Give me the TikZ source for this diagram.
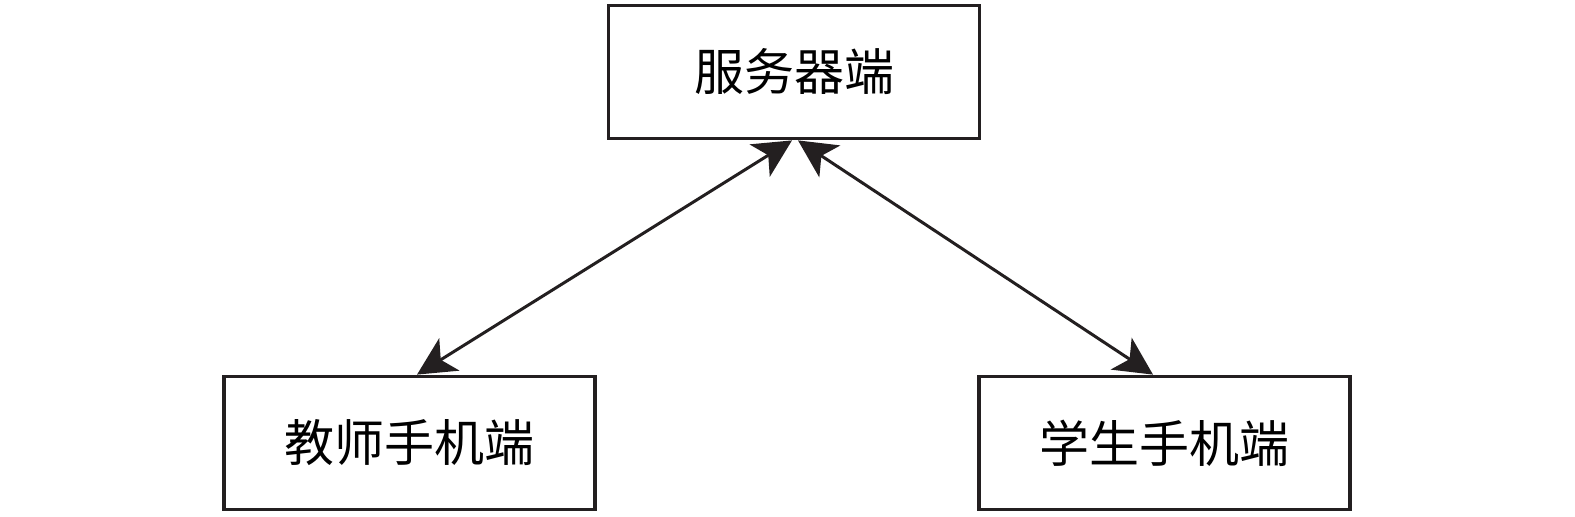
\documentclass[tikz,border=0pt]{standalone}
\usepackage{fontspec}
\newfontfamily\cjk{Noto Sans CJK SC}
\usetikzlibrary{arrows.meta}
\begin{document}
\begin{tikzpicture}[x=0.5pt,y=-0.5pt,
  boxnode/.style={draw={rgb,255:red,35;green,31;blue,32},line width=1.9pt,minimum width=185.5pt,minimum height=66.5pt,inner sep=0pt,font=\cjk\fontsize{25}{30}\selectfont},
  link/.style={line width=1.5pt,draw={rgb,255:red,35;green,31;blue,32},{Stealth[length=19pt,width=19pt,inset=5pt]}-{Stealth[length=19pt,width=19pt,inset=5pt]}}]
\useasboundingbox (0,0) rectangle (1575,516);
\node[boxnode] (srv) at (794,72) {服务器端};
\node[boxnode] (tea) at (409.5,443) {教师手机端};
\node[boxnode] (stu) at (1164.5,443) {学生手机端};
\coordinate (sl) at (srv.south -| 792,0);
\coordinate (sr) at (srv.south -| 798,0);
\coordinate (tt) at (tea.north -| 417,0);
\coordinate (st) at (stu.north -| 1153,0);
\draw[link] (sl) -- (tt);
\draw[link] (sr) -- (st);
\end{tikzpicture}
\end{document}
